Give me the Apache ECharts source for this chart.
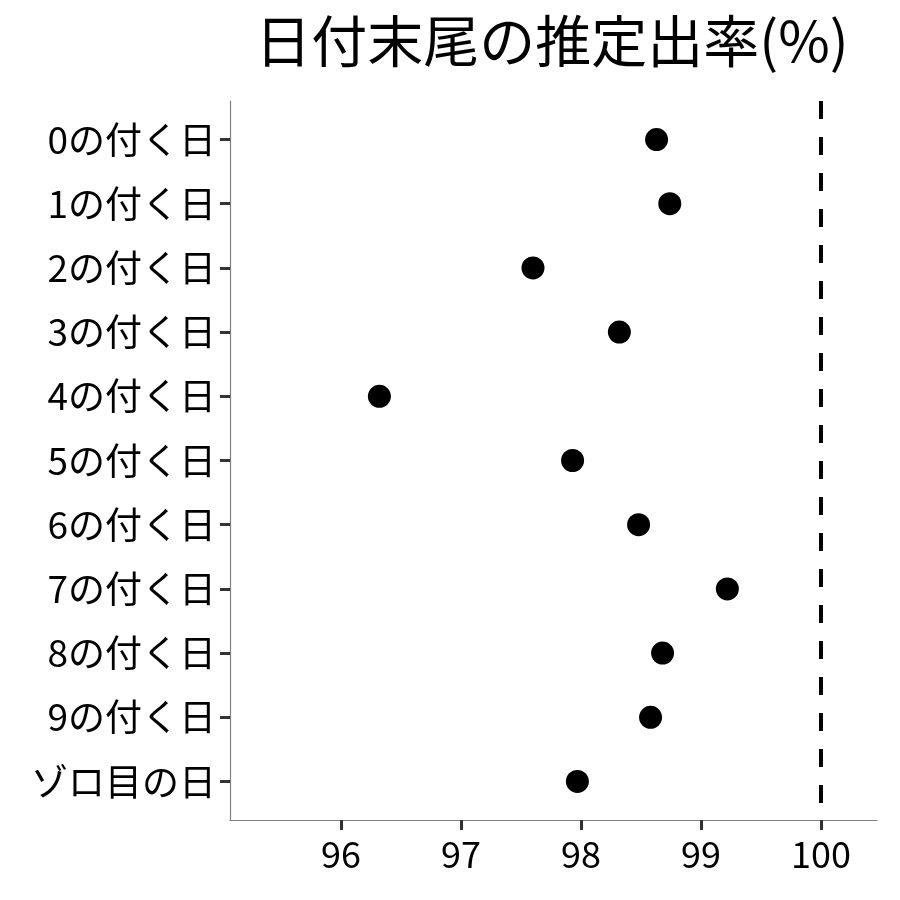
<!DOCTYPE html>
<html>
<head>
<meta charset="utf-8">
<script src="https://cdn.jsdelivr.net/npm/echarts@6/dist/echarts.min.js"></script>
<style>
  html, body { margin: 0; padding: 0; background: #fff; }
  #chart { width: 900px; height: 900px; }
</style>
</head>
<body>
<div id="chart"></div>
<script>
const categories = ['0の付く日', '1の付く日', '2の付く日', '3の付く日', '4の付く日',
    '5の付く日', '6の付く日', '7の付く日', '8の付く日', '9の付く日', 'ゾロ目の日']
const rates = [98.63, 98.74, 97.60, 98.32, 96.32, 97.93, 98.48, 99.22, 98.68, 98.58, 97.97]
const xTicks = [96, 97, 98, 99, 100]
const refLine = 100

const font = '"Noto Sans CJK JP", "Noto Sans", sans-serif'
const rowIndex = categories.map((c, i) => i)

const chart = echarts.init(document.getElementById('chart'))
chart.setOption({
    animation: false,
    title: {
        text: '日付末尾の推定出率(%)',
        left: 547,
        textAlign: 'center',
        top: 8,
        textStyle: { fontFamily: font, fontSize: 56, fontWeight: 'normal', color: '#000' }
    },
    grid: { left: 230, right: 23, top: 101, bottom: 80, containLabel: false },
    xAxis: {
        type: 'value',
        min: 95.075,
        max: 100.467,
        splitLine: { show: false },
        axisLine: { onZero: false, lineStyle: { color: '#7f7f7f', width: 1.2 } },
        axisTick: { customValues: xTicks, length: 10, lineStyle: { color: '#333', width: 3 } },
        axisLabel: { customValues: xTicks, margin: 16, fontFamily: font, fontSize: 36, color: '#000' }
    },
    yAxis: {
        type: 'value',
        inverse: true,
        min: -0.6,
        max: 10.6,
        splitLine: { show: false },
        axisLine: { show: true, onZero: false, lineStyle: { color: '#7f7f7f', width: 1.2 } },
        axisTick: { show: true, customValues: rowIndex, length: 10, lineStyle: { color: '#333', width: 3 } },
        axisLabel: {
            customValues: rowIndex,
            margin: 14,
            fontFamily: font,
            fontSize: 37,
            color: '#000',
            formatter: v => categories[Math.round(v)]
        }
    },
    series: [{
        type: 'scatter',
        symbol: 'circle',
        symbolSize: 23,
        itemStyle: { color: '#000', opacity: 1 },
        data: rates.map((r, i) => [r, i]),
        markLine: {
            silent: true,
            symbol: 'none',
            label: { show: false },
            lineStyle: { color: '#000', width: 4, type: [18, 18] },
            data: [{ xAxis: refLine }]
        }
    }]
})
</script>
</body>
</html>
